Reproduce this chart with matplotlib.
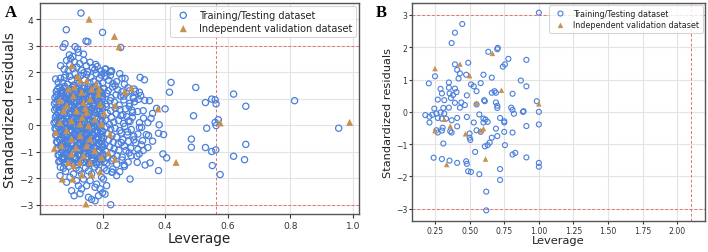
import matplotlib
matplotlib.use("Agg")
import matplotlib.pyplot as plt

# ---------------- Panel A data ----------------
# Training/Testing dataset (leverage, standardized residual)
train_a_top = [(0.131,4.24),(0.084,3.61),(0.200,3.51),(0.147,3.18),(0.153,3.16),(0.074,2.95),(0.080,3.08),
               (0.112,2.97),(0.120,2.88),(0.258,2.94),(0.123,2.75),(0.139,2.69),(0.105,2.60),(0.094,2.66),
               (0.085,2.45),(0.098,2.52),(0.110,2.40),(0.127,2.33),(0.140,2.45),(0.160,2.38),(0.178,2.30),
               (0.183,2.22),(0.168,2.18),(0.148,2.25),(0.118,2.20),(0.095,2.30),(0.077,2.12),(0.090,2.05),
               (0.105,2.15),(0.133,2.08),(0.152,2.02),(0.175,2.10),(0.195,2.05),(0.210,2.13),(0.225,2.02),
               (0.228,2.06),(0.066,2.25),
               (0.050,1.75),(0.065,1.78),(0.072,1.62),(0.082,1.90),(0.095,1.85),(0.101,1.70),(0.112,1.95),
               (0.120,1.80),(0.131,1.88),(0.142,1.72),(0.150,1.92),(0.163,1.82),(0.171,1.66),(0.180,1.95),
               (0.190,1.78),(0.200,1.60),(0.210,1.85),(0.220,1.70),(0.233,1.58),(0.245,1.65),(0.262,1.78),
               (0.185,1.55),(0.160,1.58),(0.125,1.60),(0.088,1.55),(0.058,1.62),(0.240,1.50),(0.270,1.55),
               (0.255,1.95),(0.205,1.98),(0.196,1.90),(0.225,1.88),(0.140,1.98),(0.108,1.52),(0.078,1.80)]

core_lev_a = [
    0.052,0.061,0.070,0.079,0.088,0.097,0.106,0.115,0.124,0.133,0.142,0.151,0.160,0.169,0.178,0.187,0.196,0.205,0.218,0.232,0.249,0.262,0.281,0.305,0.322,
    0.048,0.057,0.066,0.075,0.084,0.093,0.102,0.111,0.120,0.129,0.138,0.147,0.156,0.165,0.174,0.183,0.192,0.201,0.214,0.227,0.243,0.258,0.276,0.298,0.315,
    0.046,0.055,0.064,0.073,0.082,0.091,0.100,0.109,0.118,0.127,0.136,0.145,0.154,0.163,0.172,0.181,0.190,0.199,0.211,0.224,0.238,0.253,0.268,0.287,0.335,
    0.047,0.056,0.065,0.074,0.083,0.092,0.101,0.110,0.119,0.128,0.137,0.146,0.155,0.164,0.173,0.182,0.191,0.200,0.212,0.226,0.241,0.256,0.273,0.294,0.312,
    0.049,0.058,0.067,0.076,0.085,0.094,0.103,0.112,0.121,0.130,0.139,0.148,0.157,0.166,0.175,0.184,0.193,0.202,0.215,0.229,0.244,0.259,0.277,0.296,0.331,
    0.045,0.054,0.063,0.072,0.081,0.090,0.099,0.108,0.117,0.126,0.135,0.144,0.153,0.162,0.171,0.180,0.189,0.198,0.209,0.222,0.236,0.251,0.267,0.288,0.318,
    0.048,0.057,0.066,0.075,0.084,0.093,0.102,0.111,0.120,0.129,0.138,0.147,0.156,0.165,0.174,0.183,0.192,0.201,0.213,0.226,0.240,0.255,0.271,0.292,0.325,
    0.050,0.059,0.068,0.077,0.086,0.095,0.104,0.113,0.122,0.131,0.140,0.149,0.158,0.167,0.176,0.185,0.194,0.203,0.216,0.230,0.245,0.260,0.279,0.300,0.340,
    0.053,0.062,0.071,0.080,0.089,0.098,0.107,0.116,0.125,0.134,0.143,0.152,0.161,0.170,0.179,0.188,0.197,0.207,0.220,0.234,0.250,0.265,0.283,0.306,0.328,
    0.055,0.064,0.073,0.082,0.091,0.100,0.109,0.118,0.127,0.136,0.145,0.154,0.163,0.172,0.181,0.190,0.199,0.210,0.223,0.237,0.252,0.270,0.290,0.313,0.345,
    0.058,0.067,0.076,0.085,0.094,0.103,0.112,0.121,0.130,0.139,0.148,0.157,0.166,0.175,0.184,0.193,0.202,0.215,0.230,0.246,0.263,0.285,0.310,
    0.060,0.070,0.080,0.090,0.100,0.110,0.120,0.130,0.140,0.150,0.160,0.170,0.180,0.190,0.200,0.214,0.228,0.245,0.262,0.282]
core_res_a = [
    1.28,1.44,1.33,1.47,1.26,1.38,1.49,1.30,1.41,1.27,1.46,1.35,1.29,1.43,1.36,1.48,1.25,1.39,1.31,1.45,1.34,1.27,1.42,1.29,1.12,
    1.05,1.18,1.10,1.22,1.02,1.14,1.24,1.07,1.19,1.03,1.16,1.21,1.08,1.13,1.23,1.01,1.17,1.09,1.20,1.04,1.15,1.11,1.22,1.06,0.98,
    0.82,0.95,0.77,0.90,0.84,0.98,0.79,0.92,0.86,0.76,0.97,0.88,0.81,0.94,0.78,0.91,0.85,0.99,0.80,0.93,0.87,0.76,0.96,0.83,0.94,
    0.58,0.70,0.53,0.66,0.61,0.74,0.51,0.68,0.56,0.72,0.63,0.52,0.69,0.57,0.73,0.60,0.54,0.67,0.71,0.55,0.64,0.59,0.62,0.57,0.52,
    0.31,0.45,0.27,0.40,0.36,0.48,0.29,0.42,0.34,0.47,0.26,0.39,0.44,0.32,0.49,0.28,0.41,0.35,0.46,0.30,0.43,0.37,0.33,0.48,0.27,
    0.10,0.21,0.04,0.16,0.08,0.23,0.02,0.13,0.19,0.06,0.24,0.11,0.01,0.17,0.09,0.22,0.05,0.14,0.20,0.03,0.12,0.18,0.07,0.15,0.10,
    -0.12,-0.03,-0.21,-0.08,-0.17,-0.01,-0.24,-0.10,-0.15,-0.05,-0.19,-0.07,-0.22,-0.13,-0.02,-0.18,-0.09,-0.23,-0.06,-0.14,-0.11,-0.20,-0.04,-0.16,-0.08,
    -0.37,-0.28,-0.46,-0.33,-0.42,-0.26,-0.49,-0.35,-0.40,-0.30,-0.44,-0.32,-0.47,-0.38,-0.27,-0.43,-0.34,-0.48,-0.31,-0.39,-0.45,-0.29,-0.36,-0.41,-0.35,
    -0.62,-0.53,-0.71,-0.58,-0.67,-0.51,-0.74,-0.60,-0.65,-0.55,-0.69,-0.57,-0.72,-0.63,-0.52,-0.68,-0.59,-0.73,-0.56,-0.64,-0.70,-0.54,-0.61,-0.66,-0.58,
    -0.87,-0.78,-0.96,-0.83,-0.92,-0.76,-0.99,-0.85,-0.90,-0.80,-0.94,-0.82,-0.97,-0.88,-0.77,-0.93,-0.84,-0.98,-0.81,-0.89,-0.95,-0.79,-0.86,-0.91,-0.84,
    -1.12,-1.03,-1.21,-1.08,-1.17,-1.01,-1.24,-1.10,-1.15,-1.05,-1.19,-1.07,-1.22,-1.13,-1.02,-1.18,-1.09,-1.23,-1.06,-1.14,-1.20,-1.04,-1.16,
    -1.37,-1.28,-1.46,-1.33,-1.42,-1.26,-1.49,-1.35,-1.40,-1.30,-1.44,-1.32,-1.47,-1.38,-1.27,-1.43,-1.34,-1.48,-1.31,-1.39]

# second, interleaved layer of the dense core
core2_lev_a = [
    0.056,0.068,0.081,0.093,0.104,0.117,0.129,0.141,0.153,0.166,0.177,0.191,0.203,
    0.053,0.066,0.078,0.090,0.103,0.114,0.126,0.139,0.150,0.162,0.176,0.188,0.199,
    0.051,0.063,0.076,0.088,0.099,0.112,0.124,0.135,0.149,0.160,0.171,0.185,0.197,
    0.052,0.061,0.073,0.086,0.097,0.108,0.122,0.133,0.145,0.158,0.169,0.183,0.194,
    0.053,0.062,0.074,0.087,0.098,0.110,0.123,0.134,0.146,0.159,0.170,0.182,0.196,
    0.050,0.060,0.071,0.085,0.096,0.107,0.121,0.132,0.143,0.156,0.168,0.181,0.193,
    0.052,0.061,0.072,0.086,0.097,0.109,0.122,0.133,0.145,0.157,0.169,0.182,0.195,
    0.054,0.063,0.075,0.087,0.099,0.111,0.124,0.135,0.147,0.160,0.171,0.184,0.197,
    0.056,0.065,0.077,0.089,0.100,0.113,0.126,0.137,0.149,0.161,0.173,0.186,0.198,
    0.058,0.068,0.079,0.091,0.102,0.114,0.127,0.139,0.151,0.163,0.175,0.187,0.201,
    0.061,0.070,0.082,0.093,0.105,0.116,0.129,0.141,0.153,0.165,0.177,0.189,0.203,
    0.064,0.074,0.085,0.096,0.108,0.119,0.131,0.143,0.155,0.168,0.180,0.192,0.205]
core2_res_a = [
    1.36,1.31,1.40,1.34,1.43,1.37,1.32,1.39,1.45,1.33,1.41,1.30,1.38,
    1.12,1.20,1.06,1.15,1.09,1.23,1.11,1.04,1.18,1.13,1.07,1.21,1.14,
    0.87,0.80,0.93,0.85,0.91,0.82,0.95,0.88,0.78,0.90,0.84,0.96,0.81,
    0.64,0.57,0.70,0.60,0.67,0.55,0.73,0.62,0.58,0.69,0.65,0.53,0.71,
    0.38,0.31,0.44,0.35,0.41,0.28,0.47,0.36,0.33,0.43,0.39,0.26,0.45,
    0.13,0.06,0.19,0.10,0.16,0.03,0.22,0.11,0.08,0.18,0.14,0.01,0.20,
    -0.13,-0.06,-0.19,-0.10,-0.16,-0.03,-0.22,-0.11,-0.08,-0.18,-0.14,-0.01,-0.20,
    -0.38,-0.31,-0.44,-0.35,-0.41,-0.28,-0.47,-0.36,-0.33,-0.43,-0.39,-0.26,-0.45,
    -0.64,-0.57,-0.70,-0.60,-0.67,-0.55,-0.73,-0.62,-0.58,-0.69,-0.65,-0.53,-0.71,
    -0.87,-0.80,-0.93,-0.85,-0.91,-0.82,-0.95,-0.88,-0.78,-0.90,-0.84,-0.96,-0.81,
    -1.12,-1.20,-1.06,-1.15,-1.09,-1.23,-1.11,-1.04,-1.18,-1.13,-1.07,-1.21,-1.14,
    -1.36,-1.31,-1.40,-1.34,-1.43,-1.37,-1.32,-1.39,-1.45,-1.33,-1.41,-1.30,-1.38]

train_a_low = [(0.065,-1.58),(0.075,-1.62),(0.082,-1.74),(0.096,-1.96),(0.107,-1.84),(0.085,-2.15),(0.101,-2.47),
               (0.109,-2.66),(0.123,-2.28),(0.133,-2.40),(0.128,-2.58),(0.155,-2.72),(0.165,-2.80),(0.176,-2.85),
               (0.187,-2.66),(0.200,-2.55),(0.208,-2.60),(0.226,-3.00),(0.229,-1.77),(0.233,-1.65),(0.139,-2.03),
               (0.160,-2.09),(0.181,-2.22),(0.149,-2.28),(0.176,-2.34),(0.192,-2.40),(0.117,-2.09),(0.064,-1.90),
               (0.133,-1.84),(0.165,-1.84),(0.197,-1.96),(0.203,-2.03),(0.213,-2.28),(0.245,-1.90),(0.092,-1.55),
               (0.115,-1.62),(0.145,-1.60),(0.175,-1.58),(0.205,-1.62),(0.125,-1.70),(0.155,-1.72),(0.188,-1.70),
               (0.255,-1.75),(0.270,-1.55)]

train_a_out = [(0.208,2.12),(0.229,2.04),(0.272,1.77),(0.320,1.81),(0.334,1.72),(0.301,1.37),(0.318,1.25),
               (0.302,0.89),(0.350,0.93),(0.373,0.64),(0.400,0.62),(0.355,0.26),(0.381,0.02),(0.379,-0.30),
               (0.395,-0.35),(0.347,-0.39),(0.325,-0.74),(0.393,-1.08),(0.405,-1.23),(0.379,-1.71),(0.288,-2.03),
               (0.352,-1.42),(0.336,-1.50),(0.311,-1.40),(0.317,-1.08),(0.283,0.17),(0.318,-0.08),(0.313,-0.33),
               (0.291,-1.15),(0.269,-1.49),(0.235,-1.27),(0.213,-1.71),(0.232,-1.77),(0.419,1.62),(0.414,1.25),
               (0.498,1.43),(0.484,-0.52),(0.484,-0.83),(0.491,0.36),(0.529,0.86),(0.549,0.99),(0.560,0.96),
               (0.563,0.81),(0.619,1.18),(0.658,0.72),(0.814,0.93),(0.570,0.21),(0.533,-0.11),(0.563,-0.01),
               (0.560,0.11),(0.955,-0.11),(0.529,-0.84),(0.549,-0.99),(0.562,-0.93),(0.658,-0.72),(0.619,-1.17),
               (0.654,-1.30),(0.551,-1.52),(0.576,-1.86),(0.300,1.02),(0.330,0.55),(0.285,0.72),(0.265,0.40),
               (0.300,-0.55),(0.275,-0.95),(0.345,0.10),(0.360,0.45),(0.295,0.30),(0.280,-0.25),(0.260,-0.65),
               (0.268,1.10),(0.285,1.30),(0.330,-0.95),(0.360,-0.60)]

# Independent validation dataset (panel A)
valid_a = [(0.157,4.01),(0.238,3.36),(0.253,2.97),(0.101,2.25),(0.189,1.37),(0.272,1.27),(0.293,1.40),
           (0.240,0.74),(0.377,0.62),(0.576,0.09),(0.990,0.11),(0.435,-1.40),(0.046,-0.87),(0.071,-2.03),
           (0.105,-2.03),(0.147,-2.97),(0.134,-1.87),(0.165,-1.87),(0.192,-1.75),(0.240,-1.27),(0.219,-1.04),
           (0.051,-0.27),(0.091,-1.40),(0.107,-1.52),(0.128,-1.40),(0.101,-1.08),(0.160,-1.40),(0.197,-1.21),
           (0.224,-0.33),(0.197,0.05),(0.160,-0.52),(0.128,-0.39),(0.149,-0.77),(0.101,-0.52),(0.069,-0.77),
           (0.128,1.68),(0.149,1.68),(0.165,1.37),(0.187,1.18),(0.091,1.37),(0.064,0.93),(0.107,1.12),
           (0.133,1.25),(0.160,0.99),(0.192,0.80),(0.075,0.55),(0.117,0.55),(0.139,0.87),(0.149,0.49),
           (0.176,0.24),(0.101,0.17),(0.128,0.05),(0.064,0.11),(0.155,-0.01),(0.085,0.74),(0.120,1.85),
           (0.135,0.30),(0.085,-0.20),(0.115,-0.85),(0.175,-0.95),(0.140,-1.15),(0.205,0.45),(0.180,1.55),
           (0.110,1.45),(0.145,0.65)]

h_star_a = 0.562

# ---------------- Panel B data ----------------
train_b = [(1.00,3.07),(0.447,2.72),(0.394,2.45),(0.370,2.13),(0.635,1.86),(0.700,1.94),(0.703,1.98),
           (0.780,1.64),(0.910,1.61),(0.740,1.40),(0.755,1.47),(0.394,1.47),(0.490,1.52),(0.410,1.30),
           (0.430,1.19),(0.420,1.03),(0.475,1.15),(0.600,1.15),(0.660,1.06),(0.250,1.10),(0.205,0.88),
           (0.350,0.91),(0.510,0.85),(0.530,0.79),(0.580,0.89),(0.870,0.97),(0.910,0.79),(0.290,0.71),
           (0.350,0.75),(0.394,0.72),(0.405,0.61),(0.550,0.64),(0.680,0.64),(0.690,0.59),(0.660,0.59),
           (0.300,0.57),(0.355,0.57),(0.380,0.52),(0.480,0.51),(0.810,0.56),(0.270,0.38),(0.317,0.36),
           (0.365,0.43),(0.605,0.36),(0.610,0.33),(0.690,0.29),(0.700,0.19),(0.700,0.12),(0.394,0.28),
           (0.440,0.29),(0.466,0.21),(0.430,0.13),(0.350,0.13),(0.550,0.23),(0.245,0.10),(0.310,0.12),
           (0.985,0.33),(0.800,0.13),(0.810,0.06),(0.885,0.00),(0.890,0.02),(1.00,0.00),(0.180,-0.10),
           (0.210,-0.15),(0.230,-0.09),(0.260,-0.05),(0.290,-0.02),(0.317,-0.05),(0.270,-0.19),(0.300,-0.21),
           (0.330,-0.21),(0.370,-0.26),(0.210,-0.33),(0.410,-0.19),(0.480,-0.16),(0.570,-0.08),(0.600,-0.21),
           (0.615,-0.24),(0.630,-0.31),(0.600,-0.33),(0.530,-0.33),(0.720,-0.19),(0.750,-0.29),(0.750,-0.33),
           (0.820,-0.06),(0.910,-0.44),(1.00,-0.39),(0.305,-0.49),(0.410,-0.45),(0.260,-0.57),(0.270,-0.64),
           (0.300,-0.58),(0.360,-0.60),(0.370,-0.64),(0.550,-0.57),(0.580,-0.62),(0.690,-0.52),(0.750,-0.62),
           (0.810,-0.64),(0.500,-0.67),(0.500,-0.80),(0.505,-0.87),(0.700,-0.75),(0.660,-0.80),(0.645,-0.95),
           (0.630,-1.03),(0.610,-1.07),(0.755,-1.03),(0.310,-0.98),(0.540,-1.24),(0.830,-1.27),(0.810,-1.32),
           (0.240,-1.42),(0.300,-1.46),(0.355,-1.51),(0.475,-1.53),(0.480,-1.61),(0.410,-1.58),(0.910,-1.41),
           (1.00,-1.58),(1.00,-1.70),(0.490,-1.84),(0.510,-1.86),(0.570,-1.93),(0.720,-1.77),(0.720,-2.11),
           (0.620,-2.47),(0.620,-3.05)]

valid_b = [(0.250,1.34),(0.430,1.48),(0.500,1.12),(0.665,1.81),(0.730,0.67),(0.550,0.27),(1.00,0.25),
           (0.317,-0.23),(0.360,-0.44),(0.250,-0.58),(0.470,-0.68),(0.580,-0.58),(0.600,-0.52),(0.615,-1.46),
           (0.334,-1.63)]

h_star_b = 2.10

# ---------------- Styling ----------------
BLUE = '#4a7fdc'
ORANGE = '#c8914f'
RED = '#e57373'
labels = ['Training/Testing dataset', 'Independent validation dataset']

train_a = (train_a_top + list(zip(core_lev_a, core_res_a)) + list(zip(core2_lev_a, core2_res_a))
           + train_a_low + train_a_out)

fig = plt.figure(figsize=(7.08, 2.53), dpi=100)

def style_axes(ax, tick_fs, tlen, tpad):
    ax.grid(True, color='#e3e3e3', linewidth=0.8, zorder=0)
    ax.set_axisbelow(True)
    for s in ax.spines.values():
        s.set_color('#555555')
        s.set_linewidth(1.0)
    ax.tick_params(labelsize=tick_fs, colors='#333333', length=tlen, width=0.8, pad=tpad)

def panel(ax, train, valid, hstar, xlim, ylim, s_c, s_t, lw_c, tick_fs, lab_fs, leg_fs, tlen, tpad, xlpad):
    style_axes(ax, tick_fs, tlen, tpad)
    tx, ty = zip(*train)
    vx, vy = zip(*valid)
    ax.scatter(tx, ty, s=s_c, facecolors='none', edgecolors=BLUE, linewidths=lw_c,
               label=labels[0], zorder=3)
    ax.scatter(vx, vy, s=s_t, marker='^', color=ORANGE, edgecolors='none',
               label=labels[1], zorder=4)
    for yv in (3, -3):
        ax.axhline(yv, color=RED, ls='--', lw=0.7, dashes=(3, 2), zorder=2)
    ax.axvline(hstar, color=RED, ls='--', lw=0.7, dashes=(3, 2), zorder=2)
    ax.set_xlim(*xlim)
    ax.set_ylim(*ylim)
    ax.set_xlabel('Leverage', fontsize=lab_fs, color='#222222', labelpad=xlpad)
    ax.set_ylabel('Standardized residuals', fontsize=lab_fs, color='#222222', labelpad=2)
    leg = ax.legend(loc='upper right', fontsize=leg_fs, scatterpoints=1, frameon=True,
                    borderaxespad=0.3, handletextpad=0.6, borderpad=0.4, labelspacing=0.35)
    leg.get_frame().set_edgecolor('#cccccc')
    leg.get_frame().set_linewidth(0.8)
    for t in leg.get_texts():
        t.set_color('#222222')
    return ax

axA = fig.add_axes([40/708, 38/253, 319/708, 211/253])
panel(axA, train_a, valid_a, h_star_a, (0.0, 1.02), (-3.35, 4.62), 20, 26, 0.9, 6.6, 9.8, 7.0, 3, 2, 1)
axA.set_xticks([0.2, 0.4, 0.6, 0.8, 1.0])
axA.set_xticklabels(['0.2', '0.4', '0.6', '0.8', '1.0'])
axA.set_yticks([-3, -2, -1, 0, 1, 2, 3, 4])

axB = fig.add_axes([412.3/708, 31.3/253, 292.7/708, 217.7/253])
panel(axB, train_b, valid_b, h_star_b, (0.086, 2.2), (-3.37, 3.37), 13, 16, 0.8, 5.6, 8.2, 5.8, 2, 1.5, 0.5)
axB.set_xticks([0.25, 0.5, 0.75, 1.0, 1.25, 1.5, 1.75, 2.0])
axB.set_yticks([-3, -2, -1, 0, 1, 2, 3])

fig.text(5/708, 1 - 17/253, 'A', fontsize=12, fontweight='bold', family='Liberation Serif')
fig.text(376/708, 1 - 17/253, 'B', fontsize=12, fontweight='bold', family='Liberation Serif')

fig.savefig('out.png', dpi=100)
